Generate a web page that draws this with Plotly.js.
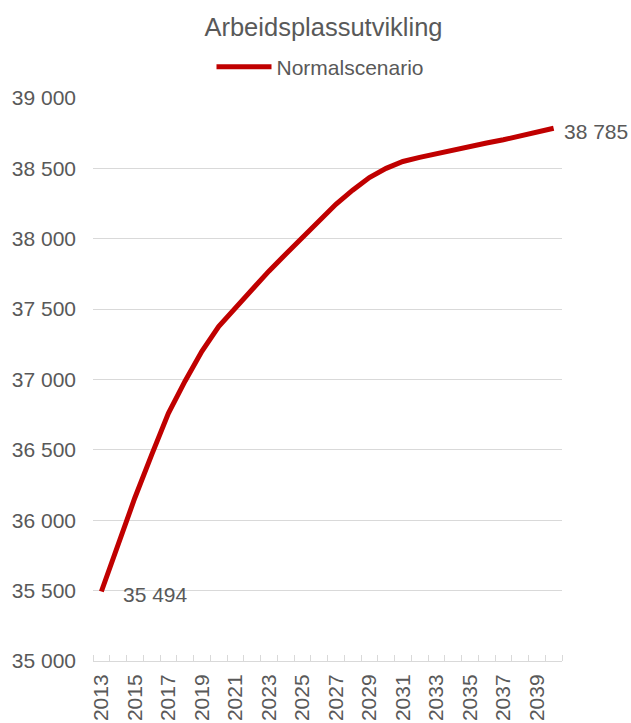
<!DOCTYPE html>
<html>
<head>
<meta charset="utf-8">
<script src="https://cdn.plot.ly/plotly-3.0.1.min.js"></script>
<style>html,body{margin:0;padding:0;background:#fff;}#chart{width:631px;height:723px;}</style>
</head>
<body>
<div id="chart"></div>
<script>
var years = [2013,2014,2015,2016,2017,2018,2019,2020,2021,2022,2023,2024,2025,2026,2027,2028,2029,2030,2031,2032,2033,2034,2035,2036,2037,2038,2039,2040];
var normalscenario = [35494,35840,36160,36465,36760,36990,37200,37376,37510,37640,37770,37890,38010,38130,38245,38345,38435,38500,38549,38578,38605,38630,38655,38680,38703,38730,38758,38785];
var tickYears = [2013,2015,2017,2019,2021,2023,2025,2027,2029,2031,2033,2035,2037,2039];
var seriesName = "Normalscenario";
var chartTitle = "Arbeidsplassutvikling";

var fontFam = "Liberation Sans, Arial, sans-serif";
var grey = "#595959";

function fmt(v){ return String(v).replace(/\B(?=(\d{3})+(?!\d))/g, " "); }

var trace = {
  x: years, y: normalscenario, type: "scatter", mode: "lines",
  name: seriesName,
  line: {color: "#c00000", width: 5},
  hoverinfo: "skip"
};

var last = years.length - 1;
var layout = {
  width: 631, height: 723,
  margin: {l: 93, r: 69, t: 98, b: 62},
  paper_bgcolor: "#fff", plot_bgcolor: "#fff",
  separators: ", ",
  font: {family: fontFam, color: grey, size: 21},
  title: {text: chartTitle, font: {family: fontFam, size: 25.5, color: grey},
          x: 0.5 - 4/469, xref: "paper", xanchor: "center", y: 1 - 27/723, yref: "container", yanchor: "middle"},
  showlegend: true,
  legend: {orientation: "h", x: 0.5 - 7/469, xref: "paper", xanchor: "center", y: 1 - 67/723, yref: "container", yanchor: "middle",
           font: {family: fontFam, size: 21, color: grey}, itemwidth: 55, bgcolor: "rgba(0,0,0,0)"},
  xaxis: {
    range: [2012.5, 2040.5], tickmode: "array", tickvals: tickYears, ticktext: tickYears.map(String),
    tickangle: -90, ticks: "", showgrid: false, zeroline: false,
    showline: true, linecolor: "#d9d9d9", linewidth: 1, ticklabelstandoff: 4,
    tickfont: {family: fontFam, size: 21, color: grey},
    minor: {ticks: "inside", tick0: 2012.5, dtick: 1, ticklen: 6, tickcolor: "#d9d9d9", tickwidth: 1, showgrid: false},
    fixedrange: true
  },
  yaxis: {
    range: [35000, 39000], tickmode: "linear", tick0: 35000, dtick: 500, tickformat: ",d",
    showgrid: true, gridcolor: "#d9d9d9", gridwidth: 1, zeroline: false, showline: false,
    ticks: "", ticklabelstandoff: 16,
    tickfont: {family: fontFam, size: 21, color: grey},
    fixedrange: true
  },
  annotations: [
    {x: years[0], y: normalscenario[0], xref: "x", yref: "y", text: fmt(normalscenario[0]), showarrow: false,
     xanchor: "left", yanchor: "middle", xshift: 20, yshift: -3, font: {family: fontFam, size: 21, color: grey}},
    {x: years[last], y: normalscenario[last], xref: "x", yref: "y", text: fmt(normalscenario[last]), showarrow: false,
     xanchor: "left", yanchor: "middle", xshift: 8, yshift: -3, font: {family: fontFam, size: 21, color: grey}}
  ]
};

Plotly.newPlot("chart", [trace], layout, {displayModeBar: false, staticPlot: true});
</script>
</body>
</html>
